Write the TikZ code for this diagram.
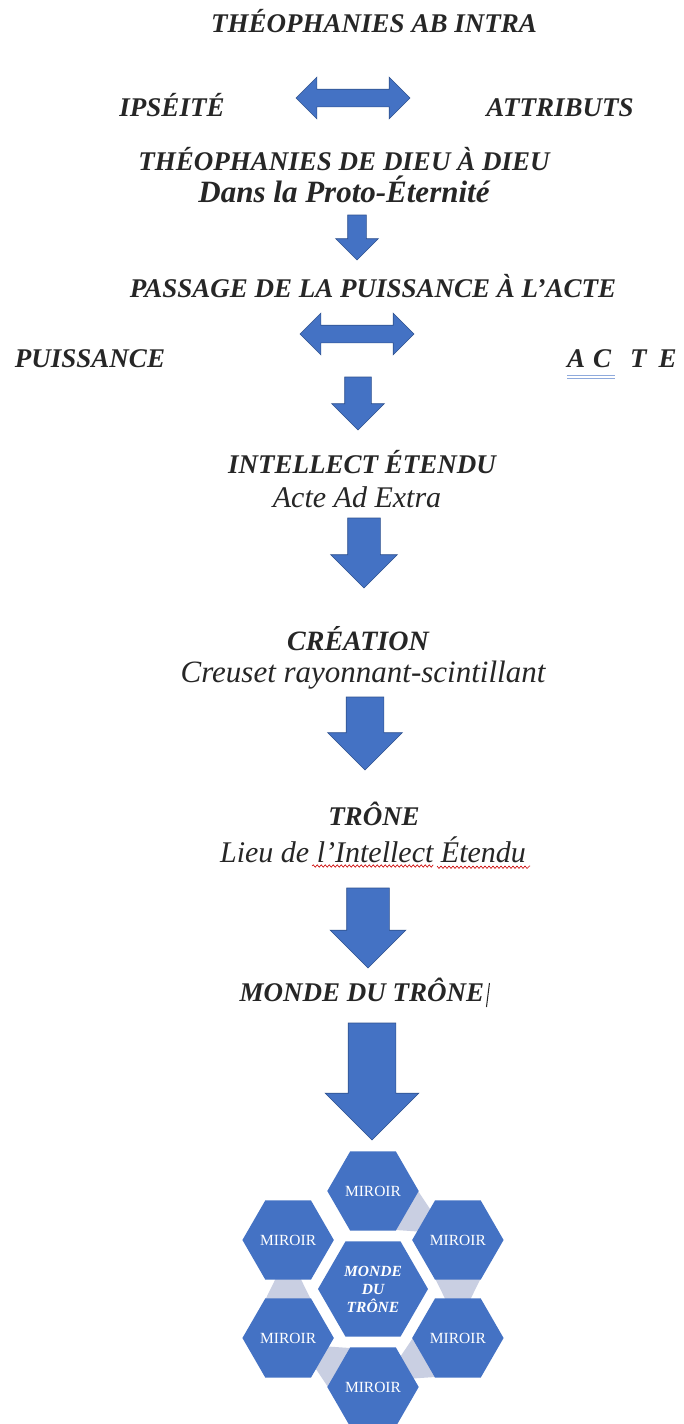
\documentclass[tikz,border=0pt]{standalone}
\usepackage{fontspec}
\setmainfont{Liberation Serif}
\usetikzlibrary{shapes.arrows,shapes.geometric}
\usetikzlibrary{calc}
\usetikzlibrary{decorations.pathmorphing}
\definecolor{bleu}{RGB}{68,114,196}
\definecolor{bleufonce}{RGB}{47,82,143}
\definecolor{lien}{RGB}{201,207,226}
\definecolor{encre}{RGB}{38,38,38}
\definecolor{souligne}{RGB}{143,170,220}

\begin{document}
\begin{tikzpicture}[x=1pt, y=-1pt,
		titre/.style={font=\fontsize{27}{32}\selectfont\bfseries\itshape, text=encre, inner sep=0pt, anchor=base},
		sous/.style={font=\fontsize{30}{36}\selectfont\itshape, text=encre, inner sep=0pt, anchor=base},
		fleche/.style={single arrow, draw=bleufonce, fill=bleu, line width=0.6pt, rotate=-90, anchor=tail, inner xsep=0pt, outer sep=0pt},
		doublefl/.style={double arrow, draw=bleufonce, fill=bleu, line width=0.6pt, inner xsep=0pt, inner ysep=8.5pt, outer sep=0pt, minimum height=114pt, minimum width=41pt, double arrow head extend=12pt},
		hexa/.style={regular polygon, regular polygon sides=6, fill=bleu, inner sep=0pt, outer sep=0pt, minimum size=90pt, text=white, font=\fontsize{15.5}{18}\selectfont},
		]
		
		\useasboundingbox (0,0) rectangle (683,1424);
		\fill[white] (0,0) rectangle (683,1424);
		\clip (0,0) rectangle (683,1424);
		
		\node[titre] (titre) at (374, 32) {THÉOPHANIES AB INTRA};
		\node[titre] (ipseite) at (172, 116) {IPSÉITÉ};
		\node[doublefl] (d1) at (353, 98) {};
		\node[titre] (attributs) at (560, 116) {ATTRIBUTS};
		\node[titre] (dieu) at (344, 170) {THÉOPHANIES DE DIEU À DIEU};
		\node[titre, font=\fontsize{31}{36}\selectfont\bfseries\itshape] (proto) at (344, 202) {Dans la Proto-Éternité};
		\node[fleche, inner ysep=9pt, minimum height=45pt, minimum width=42pt, single arrow head extend=12pt] (f1) at (357, 215) {};
		
		\node[titre] (passage) at (373, 297) {PASSAGE DE LA PUISSANCE À L’ACTE};
		\node[doublefl] (d2) at (357, 334) {};
		\node[titre] (puissance) at (90, 367) {PUISSANCE};
		\node[titre, anchor=base west] (acte) at (567, 367) {A\hspace{8pt}C\hspace{19pt}T\hspace{12pt}E};
		\draw[souligne, line width=0.7pt] ($(acte.base west)+(0,8)$) -- ++(48,0) ($(acte.base west)+(0,11)$) -- ++(48,0);
		\node[fleche, inner ysep=13pt, minimum height=53pt, minimum width=52pt, single arrow head extend=13pt] (f2) at (358, 377) {};
		
		\node[titre] (intellect) at (362, 473) {INTELLECT ÉTENDU};
		\node[sous] (adextra) at (357, 507) {Acte Ad Extra};
		\node[fleche, inner ysep=16pt, minimum height=70pt, minimum width=66pt, single arrow head extend=17pt] (f3) at (364, 518) {};
		
		\node[titre, font=\fontsize{28}{32}\selectfont\bfseries\itshape] (creation) at (358, 650) {CRÉATION};
		\node[sous, font=\fontsize{31}{36}\selectfont\itshape] (creuset) at (363, 682) {Creuset rayonnant-scintillant};
		\node[fleche, inner ysep=18.5pt, minimum height=73pt, minimum width=74pt, single arrow head extend=18.5pt] (f4) at (365, 697) {};
		
		\node[titre] (trone) at (374, 825) {TRÔNE};
		\node[sous] (lieu) at (373, 862) {Lieu de l’Intellect Étendu};
		\draw[red!80!black, line width=0.6pt, decorate, decoration={snake, amplitude=1.2pt, segment length=4pt}] (312,866) -- (432,866) (437,866) -- (530,866);
		\node[fleche, inner ysep=21pt, minimum height=80pt, minimum width=75pt, single arrow head extend=16.5pt] (f5) at (368, 888) {};
		
		\node[titre] (monde) at (362, 1001) {MONDE DU TRÔNE};
		\draw[encre, line width=1pt] ($(monde.base east)+(5,-18)$) -- ++(-3,24);
		\node[fleche, inner ysep=23.5pt, minimum height=117pt, minimum width=93pt, single arrow head extend=23pt] (f6) at (372, 1023) {};
		
		% grappe d'hexagones
		\coordinate (centre) at (373, 1289);
		\foreach \i in {1,...,6} {
			\pgfmathsetmacro\ang{270+60*(\i-1)}
			\coordinate (c\i) at ($(centre)+(\ang:98)$);
		}
		\foreach \i [count=\j from 2] in {1,...,5} {
			\pgfmathsetmacro\ph{390+60*(\i-1)}
			\fill[lien] ($(c\i)+({\ph-30}:45)$) -- ($(c\i)+({\ph+30}:45)$) -- ($(c\j)+({\ph+162}:41)$) -- ($(c\j)+({\ph+198}:41)$) -- cycle;
		}
		\node[hexa, minimum size=110pt, font=\fontsize{15.5}{18}\selectfont\bfseries\itshape, align=center] (noyau) at (centre) {MONDE\\DU\\TRÔNE};
		\foreach \i in {1,...,6}
		\node[hexa] (mir\i) at (c\i) {MIROIR};
		
\end{tikzpicture}
\end{document}
